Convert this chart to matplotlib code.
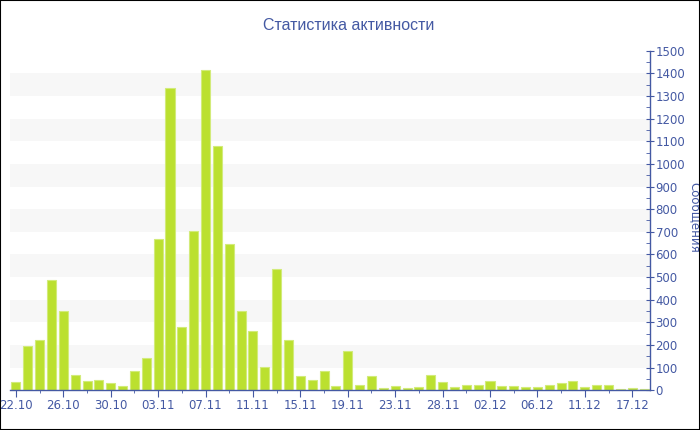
import matplotlib
matplotlib.use("Agg")
import matplotlib.pyplot as plt
from matplotlib.patches import Rectangle
from matplotlib.ticker import MultipleLocator, FixedLocator

dates = ["22.10", "23.10", "24.10", "25.10", "26.10", "27.10", "28.10", "29.10", "30.10", "31.10",
         "01.11", "02.11", "03.11", "04.11", "05.11", "06.11", "07.11", "08.11", "09.11", "10.11",
         "11.11", "12.11", "13.11", "14.11", "15.11", "16.11", "17.11", "18.11", "19.11", "20.11",
         "21.11", "22.11", "23.11", "24.11", "25.11", "27.11", "28.11", "29.11", "30.11", "01.12",
         "02.12", "03.12", "04.12", "05.12", "06.12", "07.12", "08.12", "10.12", "11.12", "12.12",
         "14.12", "15.12", "17.12", "18.12"]
messages = [38, 196, 222, 488, 350, 66, 43, 47, 34, 19,
            85, 141, 667, 1337, 278, 702, 1415, 1079, 648, 349,
            261, 104, 537, 222, 65, 44, 84, 20, 172, 25,
            64, 12, 20, 12, 16, 69, 38, 15, 23, 22,
            40, 18, 21, 13, 15, 23, 32, 40, 15, 22,
            23, 7, 9, 7]

title = "Статистика активности"
ylabel = "Сообщения"
blue = "#4459A3"
bar_color = "#BBE02F"

fig = plt.figure(figsize=(7.0, 4.3), dpi=100)
ax = fig.add_axes([10 / 700, 1 - 390.3 / 430, 640 / 700, (390.3 - 50.7) / 430])

x = list(range(len(dates)))
ax.set_xlim(-0.5, len(dates) - 0.5)
ax.set_ylim(0, 1500)

# alternating bands
for lo in range(100, 1500, 200):
    ax.axhspan(lo, lo + 100, color="#F7F7F7", zorder=0, lw=0)

ax.bar(x, messages, width=0.76, color=bar_color, edgecolor="#D2EB7A", linewidth=0.8, zorder=2)

for s in ["top", "left"]:
    ax.spines[s].set_visible(False)
for s in ["right", "bottom"]:
    ax.spines[s].set_color(blue)
    ax.spines[s].set_linewidth(1.0)

ax.yaxis.tick_right()
ax.yaxis.set_major_locator(MultipleLocator(100))
ax.yaxis.set_minor_locator(MultipleLocator(50))
ax.tick_params(axis="y", which="major", direction="inout", length=6, color=blue,
               labelcolor=blue, labelsize=8.5, pad=1)
ax.tick_params(axis="y", which="minor", direction="in", length=3, color=blue)

major_idx = list(range(0, len(dates), 4))
ax.xaxis.set_major_locator(FixedLocator(major_idx))
ax.set_xticklabels([dates[i] for i in major_idx])
ax.xaxis.set_minor_locator(FixedLocator(list(range(0, len(dates), 2))))
ax.tick_params(axis="x", which="major", direction="out", length=5, color=blue,
               labelcolor=blue, labelsize=8.5, pad=1)
ax.tick_params(axis="x", which="minor", direction="out", length=2, color=blue)

fig.text(349 / 700, 1 - 26 / 430, title, color=blue, fontsize=11.5,
         family=["Liberation Sans", "DejaVu Sans"],
         ha="center", va="center")
fig.text(688 / 700, 1 - 217 / 430, ylabel, color=blue, fontsize=8.5, rotation=270,
         ha="left", va="center")

fig.patches.append(Rectangle((0, 0), 1, 1, transform=fig.transFigure, fill=False,
                             edgecolor="black", linewidth=1.5, zorder=10))

fig.savefig("out.png", dpi=100)
